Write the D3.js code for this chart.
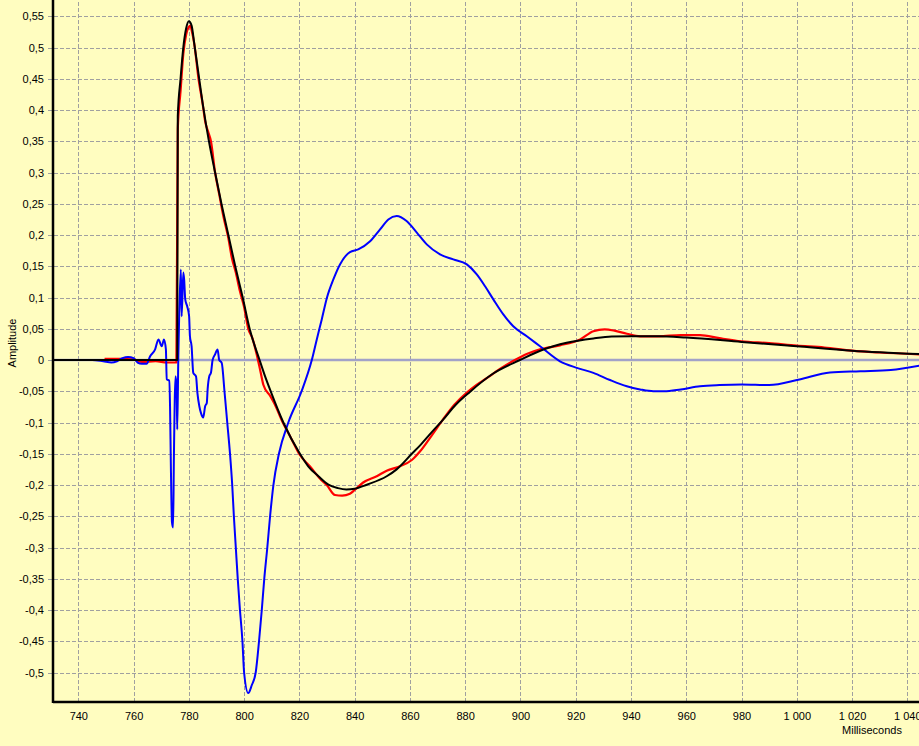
<!DOCTYPE html>
<html><head><meta charset="utf-8">
<script src="https://cdn.jsdelivr.net/npm/d3@7"></script>
<style>html,body{margin:0;padding:0;background:#fffdc0;overflow:hidden}</style>
</head><body>
<svg id="c" width="919" height="746"></svg>
<script>
// ---- data (time in ms, amplitude) ----
const redT = [749.5,755,760,763,768,772,775.5,776,777,778,779,780,780.6,781,782,783.5,785,786,787,788,789.5,791,792.5,794.3,795.5,797,798.5,800,801.5,803,804.5,806,807,809.5,811,814,817,820.2,823.8,827.5,829.9,832.9,835.5,838.3,840.1,843.1,848,851.6,856.4,860.7,863.7,868,872,876,880.6,884,887.8,893,898,902.5,907.1,914.3,921.6,926.4,930.5,934,938.5,943.3,950,958,965,972,980,990,1000,1010,1020,1030,1044.5];
const redV = [0.002,0.002,0.001,-0.003,-0.002,-0.004,-0.004,0.37,0.43,0.49,0.52,0.533,0.535,0.528,0.505,0.45,0.41,0.38,0.365,0.35,0.30,0.265,0.23,0.195,0.165,0.14,0.11,0.085,0.05,0.035,0.01,-0.02,-0.04,-0.058,-0.07,-0.1,-0.125,-0.152,-0.17,-0.19,-0.2,-0.216,-0.217,-0.214,-0.2075,-0.196,-0.186,-0.177,-0.17,-0.16,-0.146,-0.12,-0.095,-0.072,-0.052,-0.04,-0.029,-0.013,0,0.01,0.017,0.0235,0.033,0.046,0.049,0.047,0.042,0.038,0.038,0.04,0.04,0.035,0.03,0.027,0.023,0.02,0.015,0.012,0.009];

const fitT = [730,775.8,776,777,778,779,780,781,782,783.5,785.2,787.2,789.5,791.8,794.3,796.8,799.5,802,805.6,807.5,809.7,814.2,820.2,823.2,826.9,830.5,834,837,840,844.4,851.6,855.2,860.7,863.7,868,872.1,876.5,881.7,890,899.8,908.3,916.7,926.4,933,940,950,960,980,1000,1020,1044.5];
const fitV = [0,0,0.39,0.45,0.50,0.53,0.542,0.535,0.505,0.458,0.405,0.352,0.30,0.25,0.20,0.15,0.10,0.05,0,-0.025,-0.051,-0.1,-0.15,-0.17,-0.186,-0.1995,-0.205,-0.207,-0.206,-0.1995,-0.186,-0.175,-0.15,-0.1365,-0.115,-0.095,-0.072,-0.051,-0.022,0,0.0168,0.0275,0.0345,0.0375,0.038,0.038,0.036,0.029,0.022,0.015,0.0095];

const blueT = [730,745,749,752,754,756,758,760,761.5,763,764.7,766,767.8,769,770.2,771,771.7,772,772.9,773.2,773.5,773.9,774.3,774.6,775.2,775.6,775.8,776.2,776.5,777.1,777.4,778,778.3,778.7,779.4,780.1,780.4,781,781.6,782.6,783.1,783.8,784.4,785.2,785.9,786.5,786.8,787.4,788,788.6,789.5,790.4,791,791.9,792.9,793.9,794.9,795.7,796.3,797,797.7,798.5,799.4,800,801.5,802.8,804.2,805.4,806.4,807.3,808.4,809.4,810.6,812.6,816,820.8,824.5,826.3,828.1,830,832.3,834.7,838.3,841.3,845.6,849.2,852.2,855.2,858.8,862.5,866.1,870.9,875.7,880.6,884.2,887.2,890.2,893.8,897.4,902.3,907.1,914.3,920.4,926.4,932.4,938.5,943.3,948.1,952,958,965,972,980,990,1001,1012,1023,1034,1044.5];
const blueV = [0,0,-0.002,-0.004,-0.002,0.003,0.005,0.003,-0.004,-0.006,-0.006,0.006,0.017,0.033,0.022,0.033,0.017,-0.031,-0.033,-0.074,-0.17,-0.26,-0.268,-0.154,-0.026,-0.047,-0.111,0.006,0.07,0.145,0.07,0.14,0.129,0.097,0.086,0.07,0.038,0.022,-0.0205,-0.026,-0.0526,-0.074,-0.085,-0.092,-0.074,-0.0686,-0.047,-0.026,-0.0205,0,0.009,0.017,0,-0.0045,-0.05,-0.1,-0.15,-0.2,-0.25,-0.3,-0.35,-0.4,-0.45,-0.5,-0.533,-0.52,-0.5,-0.45,-0.4,-0.35,-0.3,-0.25,-0.2,-0.15,-0.1,-0.05,0,0.033,0.065,0.1,0.129,0.153,0.1728,0.177,0.19,0.209,0.225,0.2305,0.2225,0.204,0.185,0.169,0.161,0.153,0.137,0.118,0.097,0.073,0.054,0.038,0.022,-0.002,-0.0125,-0.0205,-0.032,-0.042,-0.047,-0.05,-0.05,-0.047,-0.042,-0.04,-0.039,-0.04,-0.031,-0.02,-0.018,-0.016,-0.009];

const xTicks = [740,760,780,800,820,840,860,880,900,920,940,960,980,1000,1020,1040];
const yTicks = [-0.5,-0.45,-0.4,-0.35,-0.3,-0.25,-0.2,-0.15,-0.1,-0.05,0,0.05,0.1,0.15,0.2,0.25,0.3,0.35,0.4,0.45,0.5,0.55];
const xTitle = "Milliseconds";
const yTitle = "Amplitude";

// ---- chart ----
const W = 919, H = 746;
const left = 53, bottom = 702;
const x = d3.scaleLinear().domain([740, 1040]).range([78.3, 907.3]);
const y = d3.scaleLinear().domain([-0.5, 0.55]).range([672.5, 16.3]);
const loc = d3.formatLocale({decimal: ",", thousands: " ", grouping: [3], currency: ["", ""], minus: "-"});
const fx = loc.format(",");
const fy = loc.format(".2~f");

const svg = d3.select("#c");
svg.append("rect").attr("width", W).attr("height", H).attr("fill", "#fffdc0");

const font = "'Liberation Sans', Arial, sans-serif";

// grid (horizontal)
const gy = svg.append("g").attr("transform", "translate(48,0)")
  .call(d3.axisLeft(y).tickValues(yTicks).tickSize(-(W - 48)).tickFormat(""));
gy.select(".domain").remove();
gy.selectAll("line").attr("stroke", "#a0a0a0").attr("stroke-dasharray", "4,2").attr("shape-rendering", "crispEdges");

// grid (vertical)
const gx = svg.append("g").attr("transform", `translate(0,${bottom})`)
  .call(d3.axisBottom(x).tickValues(xTicks).tickSize(-bottom).tickFormat(""));
gx.select(".domain").remove();
gx.selectAll("line").attr("stroke", "#a0a0a0").attr("stroke-dasharray", "4,2").attr("shape-rendering", "crispEdges");

// zero line
svg.append("line").attr("x1", left).attr("x2", W).attr("y1", y(0)).attr("y2", y(0))
  .attr("stroke", "#a2a2c8").attr("stroke-width", 2.5);

// clip
svg.append("clipPath").attr("id", "clip").append("rect")
  .attr("x", left).attr("y", 0).attr("width", W - left).attr("height", bottom);

const line = d3.line().x(d => x(d[0])).y(d => y(d[1])).curve(d3.curveMonotoneX);
const zip = (t, v) => t.map((d, i) => [d, v[i]]);
const plot = svg.append("g").attr("clip-path", "url(#clip)");
plot.append("path").datum(zip(redT, redV)).attr("d", line)
  .attr("fill", "none").attr("stroke", "#ff0000").attr("stroke-width", 2.2).attr("stroke-linejoin", "round");
plot.append("path").datum(zip(blueT, blueV)).attr("d", line)
  .attr("fill", "none").attr("stroke", "#0000ff").attr("stroke-width", 2).attr("stroke-linejoin", "round");
plot.append("path").datum(zip(fitT, fitV)).attr("d", line)
  .attr("fill", "none").attr("stroke", "#000000").attr("stroke-width", 2).attr("stroke-linejoin", "round");

// axes
const ay = svg.append("g").attr("transform", `translate(${left},0)`)
  .call(d3.axisLeft(y).tickValues(yTicks).tickSize(0).tickPadding(9).tickFormat(fy));
ay.select(".domain").remove();
ay.selectAll("text").attr("font-family", font).attr("font-size", 11).attr("fill", "#000");

const ax = svg.append("g").attr("transform", `translate(0,${bottom})`)
  .call(d3.axisBottom(x).tickValues(xTicks).tickSize(0).tickPadding(10).tickFormat(fx));
ax.select(".domain").remove();
ax.selectAll("text").attr("font-family", font).attr("font-size", 11).attr("fill", "#000");

svg.append("line").attr("x1", left).attr("x2", left).attr("y1", 0).attr("y2", bottom + 1)
  .attr("stroke", "#000").attr("stroke-width", 2.5);
svg.append("line").attr("x1", left).attr("x2", W).attr("y1", bottom).attr("y2", bottom)
  .attr("stroke", "#000").attr("stroke-width", 2.5);

svg.append("text").text(yTitle).attr("font-family", font).attr("font-size", 11)
  .attr("text-anchor", "middle").attr("transform", "translate(16,343) rotate(-90)");
svg.append("text").text(xTitle).attr("font-family", font).attr("font-size", 11)
  .attr("text-anchor", "middle").attr("x", 872).attr("y", 734);
</script>
</body></html>
